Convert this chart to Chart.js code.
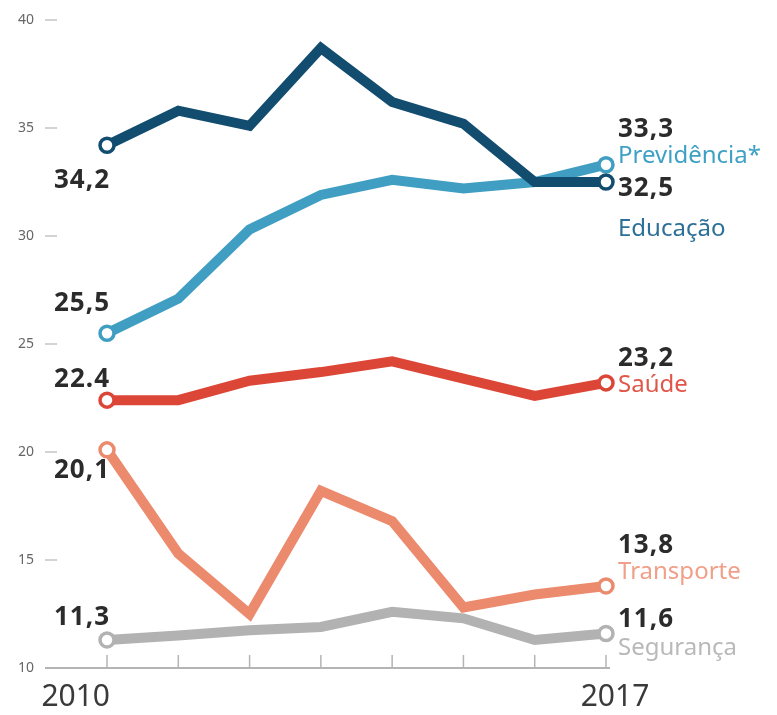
<!DOCTYPE html>
<html>
<head>
<meta charset="utf-8">
<script src="https://cdn.jsdelivr.net/npm/chart.js@4"></script>
<style>
  body { margin: 0; background: #fff; }
  canvas { display: block; }
</style>
</head>
<body>
<canvas id="gastos" width="777" height="715"></canvas>
<script>
// Spending shares per area, 2010-2017
const years = [2010, 2011, 2012, 2013, 2014, 2015, 2016, 2017];
const educacao = [34.2, 35.8, 35.1, 38.7, 36.2, 35.2, 32.5, 32.5];
const previdencia = [25.5, 27.1, 30.3, 31.9, 32.6, 32.2, 32.5, 33.3];
const saude = [22.4, 22.4, 23.3, 23.7, 24.2, 23.4, 22.6, 23.2];
const transporte = [20.1, 15.3, 12.5, 18.2, 16.8, 12.8, 13.4, 13.8];
const seguranca = [11.3, 11.5, 11.75, 11.9, 12.6, 12.3, 11.3, 11.6];
const seriesNames = ['Educação', 'Previdência*', 'Saúde', 'Transporte', 'Segurança'];
const yTicks = [10, 15, 20, 25, 30, 35, 40];
const yearLabels = ['2010', '2017'];

const lineColors = ['#124c6e', '#3f9ec2', '#dc4637', '#ec8a6d', '#b2b2b2'];
const nameColors = ['#2c6f97', '#3fa0c6', '#e2564a', '#f0a089', '#b9b9b9'];

// where the start/end labels sit relative to their point (px)
const startLabelDy = [43, -22, -13, 28, -15];
const startSep = [',', ',', '.', ',', ','];
const endValueDy = [14, -28, -17, -33, -6];
const endNameDy = [54, -2, 9, -7, 22];

function fmt(v, sep) {
    return v.toFixed(1).replace('.', sep);
}

function toPoints(values) {
    return years.map((yr, i) => ({x: yr, y: values[i]}));
}

function textAt(ctx, str, x, y, font, color, align) {
    ctx.font = font;
    ctx.fillStyle = color;
    ctx.textAlign = align;
    ctx.textBaseline = 'alphabetic';
    ctx.fillText(str, x, y);
}

const allSeries = [educacao, previdencia, saude, transporte, seguranca];

const decor = {
    id: 'decor',
    beforeDatasetsDraw(chart) {
        const ctx = chart.ctx;
        const xs = chart.scales.x;
        const ys = chart.scales.y;
        const left = chart.chartArea.left;
        const base = ys.getPixelForValue(10);
        ctx.save();
        // y ticks: small label + short dash
        ctx.strokeStyle = '#c4c4c4';
        ctx.lineWidth = 1.5;
        for (const t of yTicks) {
            const y = ys.getPixelForValue(t);
            ctx.font = '14px "Noto Sans"';
            ctx.fillStyle = '#666';
            ctx.textAlign = 'right';
            ctx.textBaseline = 'middle';
            ctx.fillText(String(t), left - 11, y);
            ctx.beginPath();
            ctx.moveTo(left, y);
            ctx.lineTo(left + 12, y);
            ctx.stroke();
        }
        // baseline and year ticks
        ctx.strokeStyle = '#b4b4b4';
        ctx.lineWidth = 2;
        ctx.beginPath();
        ctx.moveTo(left, base);
        ctx.lineTo(xs.getPixelForValue(2017) + 4, base);
        ctx.stroke();
        ctx.lineWidth = 1.5;
        for (const yr of years) {
            const x = xs.getPixelForValue(yr);
            ctx.beginPath();
            ctx.moveTo(x, base);
            ctx.lineTo(x, base - 13);
            ctx.stroke();
        }
        textAt(ctx, yearLabels[0], xs.getPixelForValue(2010) + 3, base + 38, '30px "Noto Sans"', '#3a3a3a', 'right');
        textAt(ctx, yearLabels[1], xs.getPixelForValue(2017) + 9, base + 38, '30px "Noto Sans"', '#3a3a3a', 'center');
        ctx.restore();
    },
    afterDatasetsDraw(chart) {
        const ctx = chart.ctx;
        const xs = chart.scales.x;
        const ys = chart.scales.y;
        const x0 = xs.getPixelForValue(years[0]);
        const x1 = xs.getPixelForValue(years[years.length - 1]);
        ctx.save();
        ctx.letterSpacing = '1px';
        allSeries.forEach((vals, i) => {
            const first = vals[0];
            const last = vals[vals.length - 1];
            const yFirst = ys.getPixelForValue(first);
            const yLast = ys.getPixelForValue(last);
            textAt(ctx, fmt(first, startSep[i]), x0 + 3, yFirst + startLabelDy[i], 'bold 26px "Noto Sans"', '#2b2b2b', 'left' === 'x' ? 'left' : 'right');
            textAt(ctx, fmt(last, ','), x1 + 12, yLast + endValueDy[i], 'bold 26px "Noto Sans"', '#2b2b2b', 'left');
        });
        ctx.letterSpacing = '0px';
        allSeries.forEach((vals, i) => {
            const yLast = ys.getPixelForValue(vals[vals.length - 1]);
            textAt(ctx, seriesNames[i], x1 + 12, yLast + endNameDy[i], '24px "Noto Sans"', nameColors[i], 'left');
        });
        ctx.restore();
    }
};

const endPoint = c => (c.dataIndex === 0 || c.dataIndex === years.length - 1) ? 7 : 0;

new Chart(document.getElementById('gastos'), {
    type: 'line',
    data: {
        datasets: allSeries.map((vals, i) => ({
            label: seriesNames[i],
            data: toPoints(vals),
            borderColor: lineColors[i],
            borderWidth: 10,
            pointRadius: endPoint,
            pointBorderWidth: 3.5,
            pointBackgroundColor: '#fff',
            pointBorderColor: lineColors[i],
            tension: 0,
            clip: false
        }))
    },
    options: {
        responsive: false,
        animation: false,
        events: [],
        layout: {padding: {left: 45, top: 20, right: 171, bottom: 47}},
        plugins: {legend: {display: false}, tooltip: {enabled: false}},
        scales: {
            x: {type: 'linear', min: 2009.13, max: 2017, display: false},
            y: {min: 10, max: 40, display: false}
        }
    },
    plugins: [decor]
});
</script>
</body>
</html>
